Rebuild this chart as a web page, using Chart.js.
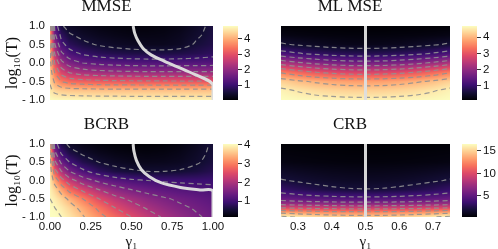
<!DOCTYPE html>
<html>
<head>
<meta charset="utf-8">
<script src="https://cdn.jsdelivr.net/npm/chart.js@4.4.1/dist/chart.umd.min.js"></script>
<style>
  body { margin: 0; width: 498px; height: 249px; overflow: hidden; background: #fff; position: relative; }
  canvas { position: absolute; }
</style>
</head>
<body>
<canvas id="p1" width="240" height="124" style="left:0;top:0"></canvas>
<canvas id="c1" width="45" height="124" style="left:215px;top:0"></canvas>
<canvas id="p2" width="220" height="124" style="left:250px;top:0"></canvas>
<canvas id="c2" width="44" height="124" style="left:454px;top:0"></canvas>
<canvas id="p3" width="240" height="131" style="left:0;top:118px"></canvas>
<canvas id="c3" width="45" height="131" style="left:215px;top:118px"></canvas>
<canvas id="p4" width="220" height="131" style="left:250px;top:118px"></canvas>
<canvas id="c4" width="44" height="131" style="left:454px;top:118px"></canvas>
<script>
// grid axes
const gammaWide = [0, 0.03, 0.07, 0.12, 0.2, 0.3, 0.4, 0.5, 0.6, 0.7, 0.8, 0.9, 1.0];
const gammaNarrow = [0.25, 0.3, 0.35, 0.4, 0.45, 0.5, 0.55, 0.6, 0.65, 0.7, 0.75];
const logTRows = [1, 0.75, 0.5, 0.25, 0, -0.25, -0.5, -0.75, -1];
const logTRowsCRB = [1, 0.5, 0, -0.25, -0.5, -0.625, -0.75, -0.875, -1];

// MMSE values (rows top to bottom)
const mmseZ = [
  [3.8, 1.3, 0.55, 0.35, 0.25, 0.18, 0.14, 0.12, 0.12, 0.15, 0.22, 0.38, 0.6],
  [3.9, 1.6, 0.85, 0.55, 0.4, 0.3, 0.24, 0.2, 0.2, 0.22, 0.3, 0.45, 0.62],
  [4.0, 2.0, 1.15, 0.8, 0.6, 0.46, 0.38, 0.33, 0.3, 0.3, 0.36, 0.55, 0.68],
  [4.1, 2.45, 1.6, 1.2, 0.95, 0.8, 0.72, 0.67, 0.65, 0.65, 0.68, 0.75, 0.85],
  [4.2, 2.95, 2.15, 1.75, 1.5, 1.38, 1.32, 1.28, 1.26, 1.26, 1.27, 1.28, 1.3],
  [4.3, 3.45, 2.8, 2.45, 2.25, 2.15, 2.1, 2.07, 2.05, 2.05, 2.05, 2.05, 2.05],
  [4.45, 3.9, 3.5, 3.3, 3.2, 3.13, 3.1, 3.08, 3.07, 3.06, 3.05, 3.05, 3.05],
  [4.6, 4.4, 4.3, 4.25, 4.22, 4.2, 4.2, 4.2, 4.2, 4.2, 4.2, 4.2, 4.2],
  [4.78, 4.76, 4.75, 4.74, 4.73, 4.72, 4.71, 4.7, 4.7, 4.7, 4.7, 4.7, 4.7]
];
// ML MSE values
const mlZ = [
  [0.12, 0.11, 0.11, 0.1, 0.1, 0.1, 0.1, 0.1, 0.11, 0.11, 0.12],
  [0.25, 0.22, 0.2, 0.19, 0.18, 0.18, 0.18, 0.19, 0.2, 0.22, 0.25],
  [0.55, 0.46, 0.39, 0.34, 0.31, 0.3, 0.31, 0.34, 0.39, 0.46, 0.55],
  [1.21, 1.05, 0.93, 0.84, 0.79, 0.77, 0.79, 0.84, 0.93, 1.05, 1.21],
  [2.3, 2.08, 1.9, 1.78, 1.7, 1.68, 1.7, 1.78, 1.9, 2.08, 2.3],
  [3.45, 3.21, 3.01, 2.88, 2.8, 2.77, 2.8, 2.88, 3.01, 3.21, 3.45],
  [4.26, 4.08, 3.95, 3.85, 3.79, 3.77, 3.79, 3.85, 3.95, 4.08, 4.26],
  [4.6, 4.48, 4.38, 4.31, 4.27, 4.26, 4.27, 4.31, 4.38, 4.48, 4.6],
  [4.7, 4.66, 4.64, 4.62, 4.6, 4.6, 4.6, 4.62, 4.64, 4.66, 4.7]
];
// BCRB values
const bcrbZ = [
  [3.4, 1.2, 0.65, 0.42, 0.3, 0.22, 0.18, 0.16, 0.16, 0.18, 0.24, 0.36, 0.55],
  [3.55, 1.6, 0.95, 0.65, 0.45, 0.34, 0.28, 0.25, 0.24, 0.26, 0.31, 0.42, 0.56],
  [3.7, 2.1, 1.4, 1.0, 0.7, 0.5, 0.4, 0.35, 0.33, 0.34, 0.38, 0.47, 0.6],
  [3.8, 2.7, 2.0, 1.5, 1.1, 0.8, 0.62, 0.54, 0.5, 0.5, 0.53, 0.6, 0.72],
  [3.9, 3.3, 2.7, 2.2, 1.75, 1.4, 1.2, 1.07, 1.0, 0.96, 0.94, 0.93, 0.93],
  [3.95, 3.7, 3.3, 2.85, 2.4, 2.0, 1.7, 1.5, 1.35, 1.25, 1.17, 1.12, 1.08],
  [4.0, 3.9, 3.7, 3.4, 3.0, 2.5, 2.15, 1.9, 1.7, 1.55, 1.42, 1.32, 1.22],
  [4.05, 4.0, 3.9, 3.7, 3.35, 2.9, 2.5, 2.2, 1.95, 1.75, 1.58, 1.45, 1.32],
  [4.05, 4.05, 4.0, 3.85, 3.55, 3.15, 2.8, 2.5, 2.2, 1.95, 1.75, 1.55, 1.4]
];
// CRB values
const crbZ = [
  [0.4, 0.38, 0.37, 0.36, 0.35, 0.35, 0.35, 0.36, 0.37, 0.38, 0.4],
  [0.8, 0.73, 0.67, 0.63, 0.61, 0.6, 0.61, 0.63, 0.67, 0.73, 0.8],
  [2.1, 1.85, 1.65, 1.51, 1.43, 1.4, 1.43, 1.51, 1.65, 1.85, 2.1],
  [3.3, 2.85, 2.5, 2.25, 2.1, 2.05, 2.1, 2.25, 2.5, 2.85, 3.3],
  [5.3, 5.0, 4.8, 4.63, 4.53, 4.5, 4.53, 4.63, 4.8, 5.0, 5.3],
  [7.1, 6.9, 6.72, 6.6, 6.52, 6.5, 6.52, 6.6, 6.72, 6.9, 7.1],
  [10.05, 9.75, 9.55, 9.4, 9.28, 9.25, 9.28, 9.4, 9.55, 9.75, 10.05],
  [13.5, 13.15, 12.85, 12.65, 12.55, 12.5, 12.55, 12.65, 12.85, 13.15, 13.5],
  [16.5, 15.9, 15.4, 15.05, 14.85, 14.8, 14.85, 15.05, 15.4, 15.9, 16.5]
];

// colour ranges and contour levels
const mmseRange = [0.05, 4.8];
const mlRange = [0.1, 4.7];
const bcrbRange = [0.15, 4.05];
const crbRange = [0.33, 16.5];
const levelsMSE = [0.5, 1, 1.5, 2, 2.5, 3, 3.5, 4, 4.5];
const levelsBCRB = [0.5, 1, 1.5, 2, 2.5, 3, 3.5, 4];
const levelsCRB = [2, 4, 6, 8, 10, 12, 14, 16];

// white boundary curves
const mmseWhiteX = [0.51, 0.52, 0.54, 0.57, 0.62, 0.7, 0.8, 0.9, 1.0, 1.0];
const mmseWhiteY = [1.0, 0.8, 0.6, 0.4, 0.22, 0.05, -0.14, -0.33, -0.58, -1.0];
const bcrbWhiteX = [0.51, 0.515, 0.53, 0.56, 0.61, 0.68, 0.8, 0.92, 1.0, 1.0];
const bcrbWhiteY = [1.0, 0.8, 0.55, 0.3, 0.1, -0.06, -0.19, -0.26, -0.29, -1.0];
const midWhiteX = [0.5, 0.5];
const midWhiteY = [-1, 1];

// ticks
const xTicksWide = [0, 0.25, 0.5, 0.75, 1];
const xTicksNarrow = [0.3, 0.4, 0.5, 0.6, 0.7];
const yTicks = [-1, -0.5, 0, 0.5, 1];
const yTickLabels = ['- 1.0', '- 0.5', '0.0', '0.5', '1.0'];
const cbTicksSmall = [1, 2, 3, 4];
const cbTicksCRB = [5, 10, 15];

const magma = ['#000004', '#140e36', '#3b0f70', '#641a80', '#8c2981', '#b73779',
  '#de4968', '#f7705c', '#fe9f6d', '#fecf92', '#fcfdbf'].map(h => [
  parseInt(h.slice(1, 3), 16), parseInt(h.slice(3, 5), 16), parseInt(h.slice(5, 7), 16)]);

function cmap(v, range) {
  let t = (v - range[0]) / (range[1] - range[0]);
  t = Math.max(0, Math.min(1, t)) * 10;
  const i = Math.min(9, Math.floor(t)), u = t - i;
  return magma[i].map((c, k) => Math.round(c + (magma[i + 1][k] - c) * u));
}

function locate(arr, v) {
  const s = arr[0] < arr[arr.length - 1] ? 1 : -1;
  let i = 0;
  while (i < arr.length - 2 && s * v > s * arr[i + 1]) i++;
  const t = (v - arr[i]) / (arr[i + 1] - arr[i]);
  return [i, Math.max(0, Math.min(1, t))];
}

function heatmapPlugin(xs, ys, z, range) {
  return {
    id: 'heatmap',
    beforeDatasetsDraw(chart) {
      const a = chart.chartArea, sx = chart.scales.x, sy = chart.scales.y;
      const w = Math.round(a.right - a.left), h = Math.round(a.bottom - a.top);
      const off = document.createElement('canvas');
      off.width = w; off.height = h;
      const octx = off.getContext('2d');
      const img = octx.createImageData(w, h);
      for (let py = 0; py < h; py++) {
        const [j, ty] = locate(ys, sy.getValueForPixel(a.top + py + 0.5));
        for (let px = 0; px < w; px++) {
          const [i, tx] = locate(xs, sx.getValueForPixel(a.left + px + 0.5));
          const top = z[j][i] + (z[j][i + 1] - z[j][i]) * tx;
          const bot = z[j + 1][i] + (z[j + 1][i + 1] - z[j + 1][i]) * tx;
          const c = cmap(top + (bot - top) * ty, range);
          const k = (py * w + px) * 4;
          img.data[k] = c[0]; img.data[k + 1] = c[1]; img.data[k + 2] = c[2]; img.data[k + 3] = 255;
        }
      }
      octx.putImageData(img, 0, 0);
      chart.ctx.drawImage(off, a.left, a.top);
    }
  };
}

function contourPaths(xs, ys, z, lev) {
  const pts = {}, adj = {};
  function edgePt(t, j, i) {
    const k = t + j + '_' + i;
    if (!pts[k]) {
      let a, b, xa, xb, ya, yb;
      if (t === 'h') { a = z[j][i]; b = z[j][i + 1]; xa = xs[i]; xb = xs[i + 1]; ya = yb = ys[j]; }
      else { a = z[j][i]; b = z[j + 1][i]; xa = xb = xs[i]; ya = ys[j]; yb = ys[j + 1]; }
      const u = (lev - a) / (b - a);
      pts[k] = { x: xa + u * (xb - xa), y: ya + u * (yb - ya) };
    }
    return k;
  }
  function link(p, q) { (adj[p] = adj[p] || []).push(q); (adj[q] = adj[q] || []).push(p); }
  for (let j = 0; j < ys.length - 1; j++) {
    for (let i = 0; i < xs.length - 1; i++) {
      const c = [z[j][i], z[j][i + 1], z[j + 1][i + 1], z[j + 1][i]];
      const edges = [['h', j, i], ['v', j, i + 1], ['h', j + 1, i], ['v', j, i]];
      const pairs = [[0, 1], [1, 2], [3, 2], [0, 3]];
      const hit = [];
      for (let k = 0; k < 4; k++) {
        const [p, q] = pairs[k];
        if ((c[p] >= lev) !== (c[q] >= lev)) hit.push(edgePt(...edges[k]));
      }
      if (hit.length === 2) link(hit[0], hit[1]);
      else if (hit.length === 4) {
        const mid = (c[0] + c[1] + c[2] + c[3]) / 4;
        if ((mid >= lev) === (c[0] >= lev)) { link(hit[0], hit[1]); link(hit[2], hit[3]); }
        else { link(hit[0], hit[3]); link(hit[1], hit[2]); }
      }
    }
  }
  const used = new Set(), lines = [];
  const walk = (start) => {
    const line = [pts[start]];
    used.add(start);
    let cur = start;
    for (;;) {
      const nxt = (adj[cur] || []).find(n => !used.has(n));
      if (!nxt) break;
      used.add(nxt); line.push(pts[nxt]); cur = nxt;
    }
    return line;
  };
  Object.keys(adj).filter(k => adj[k].length === 1).forEach(k => { if (!used.has(k)) lines.push(walk(k)); });
  Object.keys(adj).forEach(k => { if (!used.has(k)) { const l = walk(k); l.push(l[0]); lines.push(l); } });
  return lines;
}

const tickFont = { family: 'Liberation Sans', size: 11.5 };
const serif = 'Liberation Serif';

function panel(id, o) {
  const datasets = [{
    data: o.whiteX.map((x, i) => ({ x: x, y: o.whiteY[i] })),
    showLine: true, borderColor: 'rgba(222,222,222,0.97)', borderWidth: 3,
    pointRadius: 0, tension: 0.35, clip: 0
  }];
  o.levels.forEach(lev => {
    contourPaths(o.xs, o.ys, o.z, lev).forEach(line => {
      datasets.push({
        data: line, showLine: true, borderColor: 'rgba(145,145,145,0.9)', borderWidth: 1.2,
        borderDash: [5, 3.5], pointRadius: 0, tension: 0.3, clip: 0
      });
    });
  });
  new Chart(document.getElementById(id), {
    type: 'scatter',
    data: { datasets: datasets },
    options: {
      responsive: false,
      animation: false,
      events: [],
      layout: { padding: { left: 0, right: o.padRight, top: 0, bottom: 0 } },
      plugins: {
        legend: { display: false },
        tooltip: { enabled: false },
        title: {
          display: true, text: o.title, color: '#111',
          font: { family: serif, size: 17, weight: 'normal', lineHeight: 0.8 },
          padding: { top: 0, bottom: 12.4 }
        }
      },
      scales: {
        x: {
          type: 'linear', min: o.xRange[0], max: o.xRange[1],
          grid: { display: false, drawTicks: false }, border: { display: false },
          ticks: {
            display: !!o.xTicks, font: tickFont, color: '#111', padding: 3, maxRotation: 0,
            callback: v => v.toFixed(o.xDec)
          },
          afterBuildTicks: s => { if (o.xTicks) s.ticks = o.xTicks.map(v => ({ value: v })); },
          title: {
            display: !!o.xTicks, text: 'γ₁', color: '#111',
            font: { family: serif, size: 15 }, padding: { top: 0, bottom: -2 }
          },
          afterFit: s => { s.height = o.xh; }
        },
        y: {
          type: 'linear', min: -1, max: 1,
          grid: { display: false, drawTicks: false }, border: { display: false },
          ticks: {
            display: o.yLabels, font: tickFont, color: '#111', padding: 5,
            callback: v => yTickLabels[yTicks.indexOf(v)]
          },
          afterBuildTicks: s => { s.ticks = yTicks.map(v => ({ value: v })); },
          title: {
            display: o.yLabels, text: 'log₁₀(T)', color: '#111',
            font: { family: serif, size: 16 }, padding: { top: 3, bottom: 0 }
          },
          afterFit: s => { s.width = o.yw; }
        }
      }
    },
    plugins: [heatmapPlugin(o.xs, o.ys, o.z, o.range)]
  });
}

function gradientPlugin(range) {
  return {
    id: 'gradient',
    beforeDatasetsDraw(chart) {
      const a = chart.chartArea, sy = chart.scales.y, ctx = chart.ctx;
      for (let py = Math.round(a.top); py < Math.round(a.bottom); py++) {
        const c = cmap(sy.getValueForPixel(py + 0.5), range);
        ctx.fillStyle = 'rgb(' + c.join(',') + ')';
        ctx.fillRect(a.left, py, a.right - a.left, 1);
      }
    }
  };
}

function colorbar(id, range, ticks, bottomPad) {
  const el = document.getElementById(id);
  new Chart(el, {
    type: 'scatter',
    data: { datasets: [] },
    options: {
      responsive: false,
      animation: false,
      events: [],
      layout: { padding: { left: 8, right: 0, top: 26, bottom: bottomPad } },
      plugins: { legend: { display: false }, tooltip: { enabled: false } },
      scales: {
        x: { display: false },
        y: {
          position: 'right', min: range[0], max: range[1],
          grid: { display: true, drawOnChartArea: false, drawTicks: true, tickLength: 4, color: '#333' },
          border: { display: false },
          ticks: { font: tickFont, color: '#111', padding: 2 },
          afterBuildTicks: s => { s.ticks = ticks.map(v => ({ value: v })); },
          afterFit: s => { s.width = el.width - 23; }
        }
      }
    },
    plugins: [gradientPlugin(range)]
  });
}

panel('p1', { title: 'MMSE', xs: gammaWide, ys: logTRows, z: mmseZ, range: mmseRange, levels: levelsMSE,
  whiteX: mmseWhiteX, whiteY: mmseWhiteY, xRange: [0, 1], xTicks: null, xDec: 2,
  yLabels: true, xh: 24, yw: 50, padRight: 27 });
panel('p2', { title: 'ML MSE', xs: gammaNarrow, ys: logTRows, z: mlZ, range: mlRange, levels: levelsMSE,
  whiteX: midWhiteX, whiteY: midWhiteY, xRange: [0.25, 0.75], xTicks: null, xDec: 1,
  yLabels: false, xh: 24, yw: 31, padRight: 20 });
panel('p3', { title: 'BCRB', xs: gammaWide, ys: logTRows, z: bcrbZ, range: bcrbRange, levels: levelsBCRB,
  whiteX: bcrbWhiteX, whiteY: bcrbWhiteY, xRange: [0, 1], xTicks: xTicksWide, xDec: 2,
  yLabels: true, xh: 32, yw: 50, padRight: 27 });
panel('p4', { title: 'CRB', xs: gammaNarrow, ys: logTRowsCRB, z: crbZ, range: crbRange, levels: levelsCRB,
  whiteX: midWhiteX, whiteY: midWhiteY, xRange: [0.25, 0.75], xTicks: xTicksNarrow, xDec: 1,
  yLabels: false, xh: 32, yw: 31, padRight: 20 });

colorbar('c1', mmseRange, cbTicksSmall, 24);
colorbar('c2', mlRange, cbTicksSmall, 24);
colorbar('c3', bcrbRange, cbTicksSmall, 32);
colorbar('c4', crbRange, cbTicksCRB, 32);
</script>
</body>
</html>
